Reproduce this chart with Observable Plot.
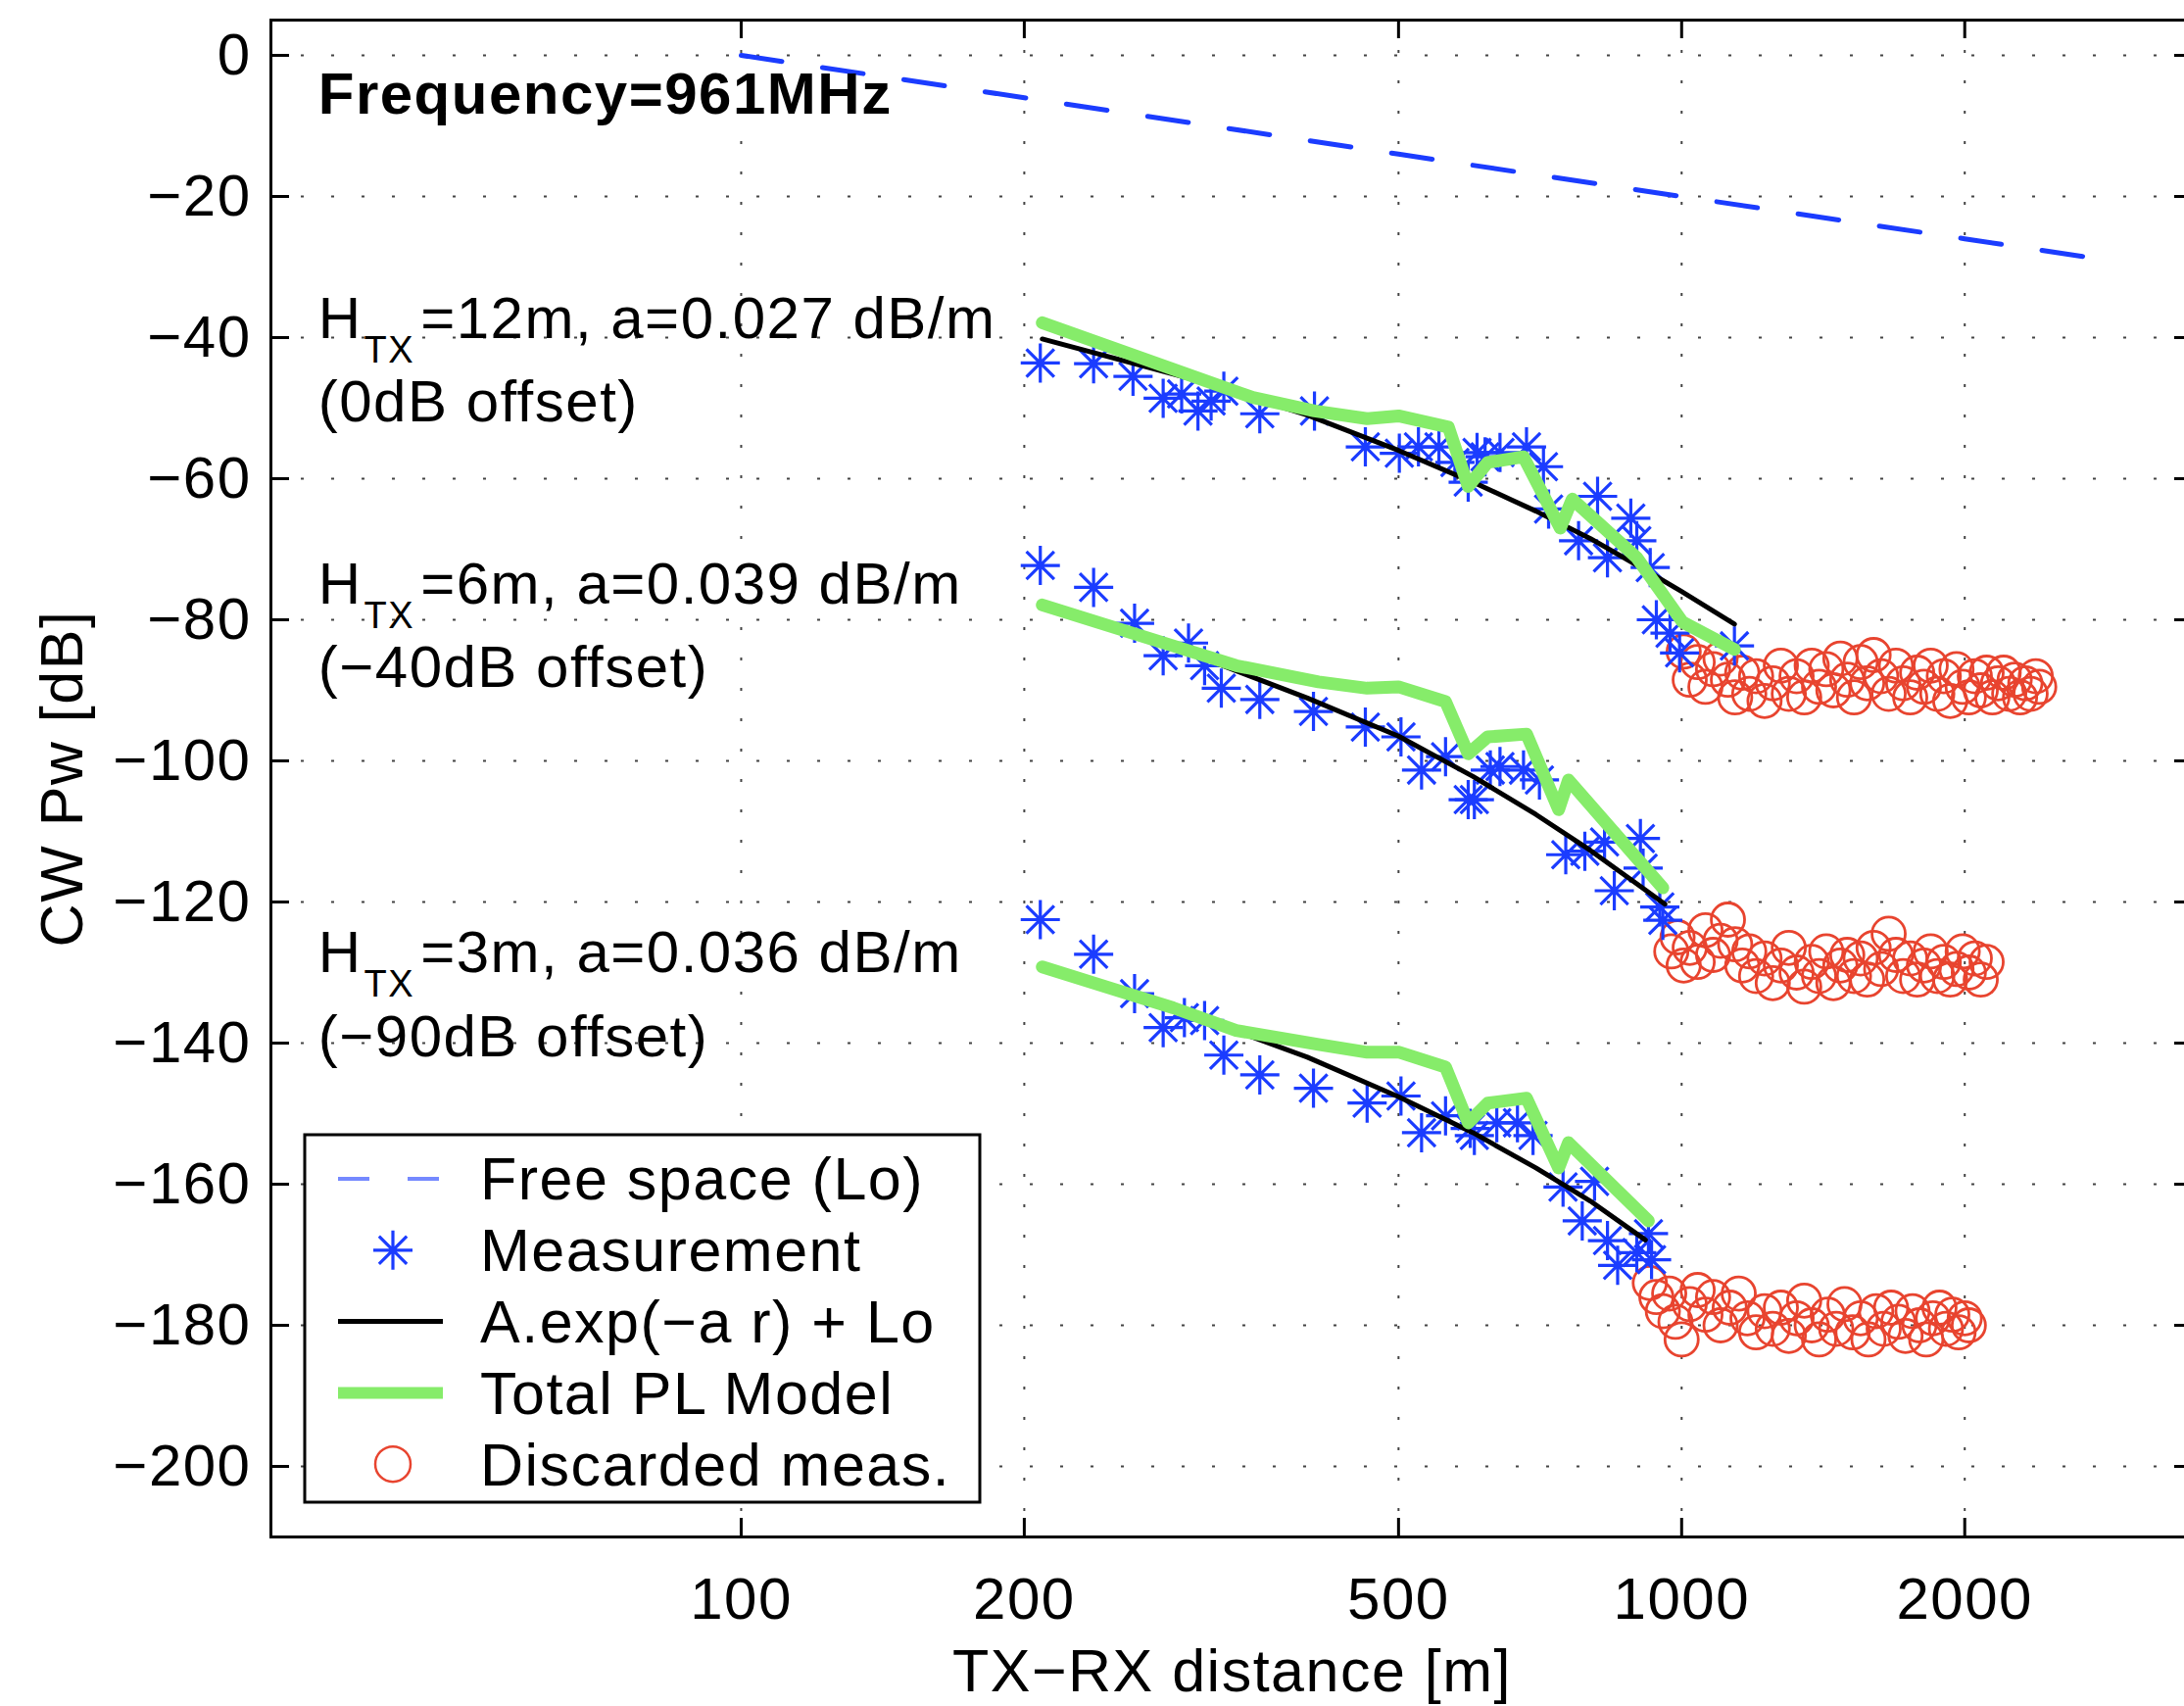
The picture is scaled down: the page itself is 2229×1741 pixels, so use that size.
<!DOCTYPE html>
<html><head><meta charset="utf-8">
<script src="https://cdn.jsdelivr.net/npm/d3@7"></script>
<script src="https://cdn.jsdelivr.net/npm/@observablehq/plot@0.6"></script>
<style>
html,body{margin:0;padding:0;background:#fff;overflow:hidden;}
#chart svg{display:block;max-width:none !important;}
</style></head><body><div id="chart"></div>
<script>
// ---------- tick labels ----------
const xTicks = [100, 200, 500, 1000, 2000];
const yTicks = [0, -20, -40, -60, -80, -100, -120, -140, -160, -180, -200];

// ---------- free space (Lo) ----------
const freeDist = [100, 200, 500, 1000, 2000, 2670];
const freeDb   = [0, -6.0, -14.0, -20.0, -26.0, -28.5];

// ---------- measurements (stars) ----------
const meas12Dist = [208,237,261,281,294,306,316,326,356,407,461,501,525,552,574,593,606,618,641,684,713,722,777,814,834,883,896,926,940,972,995,1138];
const meas12Db   = [-43.6,-43.7,-45.5,-48.6,-48.0,-50.4,-49.0,-47.6,-50.8,-50.4,-55.5,-56.4,-55.5,-55.5,-57.7,-60.5,-56.3,-56.9,-56.3,-55.5,-58.3,-64.3,-68.8,-62.5,-71.2,-65.6,-68.8,-72.6,-80.0,-81.9,-84.7,-83.7];
const meas6Dist  = [208,237,262,281,299,311,324,356,406,461,503,529,561,593,602,626,641,679,706,753,789,828,848,904,910,948,955];
const meas6Db    = [-72.3,-75.4,-80.5,-85.1,-83.3,-86.5,-89.7,-91.3,-93.0,-95.2,-96.6,-101.3,-99.4,-105.5,-105.5,-101.3,-100.8,-101.3,-102.7,-113.3,-112.8,-111.5,-118.4,-111.0,-115.2,-120.7,-122.6];
const meas3Dist  = [208,237,262,281,296,311,326,356,406,463,503,529,561,596,602,636,669,695,748,784,808,834,855,896,922,929];
const meas3Db    = [-122.5,-127.4,-133.0,-137.8,-136.4,-136.8,-141.7,-144.5,-146.4,-148.5,-147.5,-152.7,-150.3,-152.1,-153.1,-151.3,-151.3,-153.1,-160.4,-165.2,-159.6,-168.0,-171.5,-169.7,-167.0,-170.7];

// ---------- A.exp(-a r) + Lo fits ----------
const fit12Dist = [209,300,400,500,600,700,800,900,1000,1138];
const fit12Db   = [-40.2,-45.8,-51.0,-56.0,-60.5,-64.6,-68.5,-72.4,-76.0,-80.6];
const fit6Dist  = [209,300,400,500,600,700,800,900,960];
const fit6Db    = [-78.0,-84.7,-91.1,-96.5,-102.2,-107.6,-112.7,-117.6,-120.3];
const fit3Dist  = [209,300,400,500,600,700,800,915];
const fit3Db    = [-129.5,-135.9,-142.0,-147.6,-152.7,-157.7,-162.4,-167.9];

// ---------- Total PL model ----------
const pl12Dist = [209,288,350,407,463,500,565,593,622,679,743,765,896,1002,1138];
const pl12Db   = [-37.9,-44.5,-48.5,-50.4,-51.5,-51.1,-52.7,-61.1,-57.7,-56.9,-67.0,-62.9,-71.2,-80.3,-84.2];
const pl6Dist  = [209,288,336,411,463,500,561,593,622,684,740,758,955];
const pl6Db    = [-77.9,-83.7,-86.5,-88.8,-89.7,-89.5,-91.6,-99.0,-96.6,-96.2,-106.9,-102.7,-118.0];
const pl3Dist  = [209,288,336,411,463,501,561,593,622,684,740,758,922];
const pl3Db    = [-129.2,-135.0,-138.2,-140.2,-141.3,-141.3,-143.4,-151.3,-148.5,-147.8,-157.7,-154.1,-165.2];

// ---------- discarded measurements (circles) ----------
const disc12Dist = [1005,1020,1040,1060,1080,1100,1120,1140,1160,1180,1200,1225,1250,1275,1300,1325,1350,1375,1400,1425,1450,1475,1500,1525,1550,1575,1600,1630,1660,1690,1720,1750,1780,1810,1840,1870,1900,1930,1960,1990,2020,2050,2080,2110,2140,2170,2200,2230,2260,2290,2320,2350,2380,2400];
const disc12Db   = [-84.5,-88.5,-86.0,-89.5,-87.0,-85.5,-88.5,-91.0,-87.5,-90.5,-88.0,-91.5,-89.0,-86.5,-90.5,-88.0,-91.0,-86.5,-89.5,-87.0,-90.0,-85.5,-88.5,-91.0,-86.0,-89.0,-85.0,-88.0,-90.5,-86.5,-89.0,-91.0,-87.5,-89.5,-86.5,-90.5,-88.0,-91.5,-87.0,-89.5,-91.0,-88.0,-90.0,-87.5,-91.0,-89.0,-87.5,-90.5,-88.5,-91.0,-89.0,-90.5,-88.0,-89.5];
const disc6Dist  = [975,990,1005,1020,1040,1060,1080,1100,1120,1140,1160,1180,1200,1225,1250,1275,1300,1325,1350,1375,1400,1425,1450,1475,1500,1525,1550,1575,1600,1630,1660,1690,1720,1750,1780,1810,1840,1870,1900,1930,1960,1990,2020,2050,2080,2110];
const disc6Db    = [-127.0,-125.0,-129.0,-126.5,-128.5,-124.0,-127.5,-125.5,-122.5,-126.0,-129.0,-127.0,-130.5,-128.0,-131.5,-129.0,-126.5,-130.0,-132.0,-128.5,-130.5,-127.0,-131.5,-129.0,-127.5,-130.5,-128.0,-131.0,-126.5,-129.5,-124.5,-127.5,-130.5,-128.0,-131.0,-129.0,-127.0,-130.5,-128.5,-131.0,-129.5,-127.0,-130.0,-128.0,-131.0,-128.5];
const disc3Dist  = [925,940,955,970,985,1000,1020,1040,1060,1080,1100,1125,1150,1175,1200,1225,1250,1275,1300,1325,1350,1375,1400,1430,1460,1490,1520,1550,1580,1610,1640,1670,1700,1730,1760,1790,1820,1850,1880,1910,1940,1970,2000,2020];
const disc3Db    = [-174.0,-176.0,-178.0,-175.5,-179.5,-182.0,-177.0,-175.0,-178.5,-176.0,-180.0,-177.5,-175.5,-179.0,-181.0,-178.0,-180.5,-177.5,-181.5,-179.0,-176.5,-180.0,-182.0,-178.5,-180.5,-177.0,-181.0,-179.0,-182.0,-178.0,-180.5,-177.5,-179.5,-181.5,-178.0,-180.0,-182.0,-179.0,-177.5,-180.5,-178.5,-181.0,-179.0,-180.0];

// ---------- text annotations ----------
const noteX = 35.5;
const freqLabel = "Frequency=961MHz";
const freqY = -5.6;
const headY = [-37.4, -75.0, -127.2];
const headRest = ["=12m, a=0.027 dB/m", "=6m, a=0.039 dB/m", "=3m, a=0.036 dB/m"];
const offsetY = [-49.2, -86.9, -139.2];
const offsetText = ["(0dB offset)", "(\u221240dB offset)", "(\u221290dB offset)"];
const legendLabels = ["Free space (Lo)", "Measurement", "A.exp(\u2212a r) + Lo", "Total PL Model", "Discarded meas."];

// ---------- styles ----------
const BLUE = "#1b3cff", GREEN = "#86ec6a", RED = "#e8442f";
const FONT = "'Liberation Sans', Arial, Helvetica, sans-serif";

const zip = (xs, ys) => xs.map((d, i) => ({d, p: ys[i]}));
const free = zip(freeDist, freeDb);
const meas = [...zip(meas12Dist, meas12Db), ...zip(meas6Dist, meas6Db), ...zip(meas3Dist, meas3Db)];
const disc = [...zip(disc12Dist, disc12Db), ...zip(disc6Dist, disc6Db), ...zip(disc3Dist, disc3Db)];
const fits = [zip(fit12Dist, fit12Db), zip(fit6Dist, fit6Db), zip(fit3Dist, fit3Db)];
const pls = [zip(pl12Dist, pl12Db), zip(pl6Dist, pl6Db), zip(pl3Dist, pl3Db)];

const star = {
  draw(ctx, size) {
    const r = Math.sqrt(size / Math.PI), k = r * Math.SQRT1_2;
    ctx.moveTo(-r, 0); ctx.lineTo(r, 0);
    ctx.moveTo(0, -r); ctx.lineTo(0, r);
    ctx.moveTo(-k, -k); ctx.lineTo(k, k);
    ctx.moveTo(-k, k); ctx.lineTo(k, -k);
  }
};

const W = 2250, H = 1741, ML = 276, MR = 12, MT = 20, MB = 173;
const plotW = W - ML - MR, plotH = H - MT - MB, TK = 19;
const SUB = "H_TX";

const marks = [
  Plot.ruleY(yTicks, {stroke: "#444", strokeWidth: 2, strokeDasharray: "3,28"}),
  Plot.ruleX(xTicks, {stroke: "#444", strokeWidth: 2, strokeDasharray: "3,28"}),
  Plot.line(free, {x: "d", y: "p", stroke: BLUE, strokeWidth: 5, strokeDasharray: "42,41.9"}),
  Plot.dot(disc, {x: "d", y: "p", r: 17, stroke: RED, strokeWidth: 2.8, fill: "none"}),
  Plot.dot(meas, {x: "d", y: "p", r: 20, symbol: star, stroke: BLUE, strokeWidth: 3.2, fill: "none"}),
  ...fits.map(f => Plot.line(f, {x: "d", y: "p", stroke: "black", strokeWidth: 5})),
  ...pls.map(f => Plot.line(f, {x: "d", y: "p", stroke: GREEN, strokeWidth: 13})),
  // annotations
  Plot.text([freqLabel], {x: () => noteX, y: () => freqY, text: d => d, textAnchor: "start", lineAnchor: "middle", fontSize: 60, fontWeight: "bold", fill: "black"}),
  Plot.text(headY, {x: () => noteX, y: d => d, text: (d, i) => SUB + headRest[i], textAnchor: "start", lineAnchor: "middle", fontSize: 60, fill: "black"}),
  Plot.text(offsetY, {x: () => noteX, y: d => d, text: (d, i) => offsetText[i], textAnchor: "start", lineAnchor: "middle", fontSize: 60, fill: "black"}),
  // inward ticks
  Plot.ruleY(yTicks, {stroke: "black", strokeWidth: 3, insetRight: plotW - TK}),
  Plot.ruleY(yTicks, {stroke: "black", strokeWidth: 3, insetLeft: plotW - TK}),
  Plot.ruleX(xTicks, {stroke: "black", strokeWidth: 3, insetTop: plotH - TK}),
  Plot.ruleX(xTicks, {stroke: "black", strokeWidth: 3, insetBottom: plotH - TK}),
  Plot.frame({stroke: "black", strokeWidth: 3}),
  // axis titles
  Plot.text(["CW Pw [dB]"], {frameAnchor: "left", textAnchor: "middle", rotate: -90, dx: -212, fontSize: 61, fill: "black"}),
  Plot.text(["TX\u2212RX distance [m]"], {frameAnchor: "bottom", textAnchor: "middle", dy: 138, lineAnchor: "middle", fontSize: 61, fill: "black"})
];

const svg = Plot.plot({
  width: W, height: H,
  marginLeft: ML, marginRight: MR, marginTop: MT, marginBottom: MB,
  style: {fontFamily: FONT, fontSize: "60px", color: "black", background: "white", letterSpacing: "1.5px", maxWidth: "none"},
  x: {type: "log", domain: [31.62, 3500], ticks: xTicks, tickFormat: d => String(d), tickSize: 0, tickPadding: 41, label: null},
  y: {domain: [-210, 5], ticks: yTicks, tickFormat: d => d === 0 ? "0" : "\u2212" + Math.abs(d), tickSize: 0, tickPadding: 20, label: null},
  marks
});
svg.style.maxWidth = "none";
document.getElementById("chart").appendChild(svg);

// subscript "TX" in the H_TX annotations
d3.select(svg).selectAll("text").each(function() {
  const t = this.textContent;
  if (!t.startsWith(SUB)) return;
  const el = d3.select(this);
  el.text(null);
  el.append("tspan").text("H");
  el.append("tspan").attr("font-size", 38).attr("dx", 2).attr("dy", 25).text("TX");
  el.append("tspan").attr("dx", 6).attr("dy", -25).text(t.slice(SUB.length));
});

// ---------- legend (inside the axes, lower left) ----------
const lg = d3.select(svg).append("g").attr("font-family", FONT).attr("text-anchor", "start");
const box = {x: 311, y: 1158, w: 689, h: 375};
lg.append("rect").attr("x", box.x).attr("y", box.y).attr("width", box.w).attr("height", box.h)
  .attr("fill", "white").attr("stroke", "black").attr("stroke-width", 3);
const rowY = i => 1203 + i * 72.8;
const sx0 = 345, sx1 = 452, sxc = 401, tx = 490;
lg.append("line").attr("x1", sx0).attr("x2", sx1).attr("y1", rowY(0)).attr("y2", rowY(0))
  .attr("stroke", BLUE).attr("stroke-width", 4).attr("stroke-dasharray", "32,39").attr("opacity", 0.6);
lg.append("path").attr("transform", `translate(${sxc},${rowY(1)})`)
  .attr("d", d3.symbol(star, Math.PI * 20 * 20)()).attr("stroke", BLUE).attr("stroke-width", 3.2).attr("fill", "none");
lg.append("line").attr("x1", sx0).attr("x2", sx1).attr("y1", rowY(2)).attr("y2", rowY(2))
  .attr("stroke", "black").attr("stroke-width", 5);
lg.append("line").attr("x1", sx0).attr("x2", sx1).attr("y1", rowY(3)).attr("y2", rowY(3))
  .attr("stroke", GREEN).attr("stroke-width", 12);
lg.append("circle").attr("cx", sxc).attr("cy", rowY(4)).attr("r", 18)
  .attr("stroke", RED).attr("stroke-width", 2.5).attr("fill", "none");
legendLabels.forEach((t, i) => {
  lg.append("text").attr("x", tx).attr("y", rowY(i)).attr("dy", "0.35em")
    .attr("font-size", 61).attr("fill", "black").text(t);
});
</script></body></html>
